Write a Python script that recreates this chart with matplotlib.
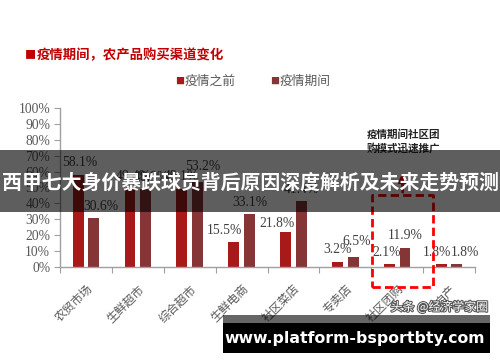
import matplotlib
matplotlib.use("Agg")
import matplotlib.pyplot as plt
from matplotlib.patches import Rectangle
import matplotlib.patheffects as pe
import numpy as np

categories = ["农贸市场", "生鲜超市", "综合超市", "生鲜电商", "社区菜店", "专卖店", "社区团购", "自产"]
before = [58.1, 49.4, 49.1, 15.5, 21.8, 3.2, 2.1, 1.8]
during = [30.6, 48.9, 53.2, 33.1, 41.4, 6.5, 11.9, 1.8]
series_names = ["疫情之前", "疫情期间"]
yticks = [0, 10, 20, 30, 40, 50, 60, 70, 80, 90, 100]
title = "疫情期间，农产品购买渠道变化"
note = "疫情期间社区团\n购模式迅速推广"
banner = "西甲七大身价暴跌球员背后原因深度解析及未来走势预测"
site = "www.platform-bsportbty.com"
watermark = "头条 @经济学家圈"

# label offsets in pixels (style)
dx_b = [1.5, 3, 0, -9, -8.5, 0, -2.5, -4.5]
dy_b = [12, 12, 12, 12, 9, 12, 11, 12]
dx_d = [7.5, 6, 5, 1, 0, 3.5, 0, 8]
dy_d = [12, 12, 16, 12, 12, 15, 13, 12]

CJK = ["Noto Sans CJK SC", "DejaVu Sans"]
SERIF = ["Liberation Serif", "DejaVu Serif"]
c_before = "#A81A1A"
c_during = "#853535"
gray = "#595959"

fig = plt.figure(figsize=(5.0, 3.62), dpi=100)
ax = fig.add_axes([0.12, 0.2624, 0.83, 0.4393])

x = np.arange(len(categories))
w = 0.21
ax.bar(x + 0.35, before, w, color=c_before, zorder=2)
ax.bar(x + 0.65, during, w, color=c_during, zorder=2)

px2pt = 72 / 100
for i in range(len(categories)):
    ax.annotate(f"{before[i]}%", (x[i] + 0.35, before[i]),
                xytext=(dx_b[i] * px2pt, dy_b[i] * px2pt), textcoords="offset points",
                ha="center", va="center", fontsize=9.8, family=SERIF, color="#404040")
    ax.annotate(f"{during[i]}%", (x[i] + 0.65, during[i]),
                xytext=(dx_d[i] * px2pt, dy_d[i] * px2pt), textcoords="offset points",
                ha="center", va="center", fontsize=9.8, family=SERIF, color="#404040")

ax.set_xlim(0, len(categories))
ax.set_ylim(0, 100)
ax.set_yticks(yticks)
ax.set_yticklabels([f"{t}%" for t in yticks], family=SERIF, fontsize=9.8, color=gray)
ax.set_xticks(np.arange(len(categories) + 1))
ax.set_xticklabels([])
ax.set_xticks(x + 0.5, minor=True)
ax.set_xticklabels(categories, minor=True, rotation=45, ha="right", va="top",
                   rotation_mode="anchor", family=CJK, fontsize=8.5, color=gray)
ax.tick_params(axis="x", which="minor", length=0, pad=11)
ax.tick_params(axis="x", which="major", length=4, color="#A0A0A0", direction="out")
ax.tick_params(axis="y", length=4, color="#A0A0A0", pad=3)
for s in ["top", "right"]:
    ax.spines[s].set_visible(False)
for s in ["left", "bottom"]:
    ax.spines[s].set_color("#A0A0A0")
    ax.spines[s].set_linewidth(1.0)

# dashed highlight box around 社区团购
box_x0, box_x1, box_y0, box_y1 = 6.02, 7.19, -12.6, 45.3
ax.plot([box_x0, box_x1, box_x1, box_x0, box_x0], [box_y0, box_y0, box_y1, box_y1, box_y0],
        color="#FF0000", lw=2.0, ls=(0, (3, 1.5)), clip_on=False, zorder=3)
ax.annotate("", xy=((box_x0 + box_x1) / 2, 61), xytext=((box_x0 + box_x1) / 2, box_y1),
            arrowprops=dict(arrowstyle="-|>", color="#FF0000", lw=2.0, ls="--",
                            mutation_scale=12), annotation_clip=False)
ax.text((box_x0 + box_x1) / 2 + 0.02, 79, note, ha="center", va="center",
        family=CJK, fontsize=7.6, fontweight="bold", color="#222222", linespacing=1.3)

# title
fig.text(25 / 500, 1 - 55 / 362, "■", family=CJK, fontsize=8, color="#C00000", va="center")
fig.text(37 / 500, 1 - 55 / 362, title, family=CJK, fontsize=9.6, fontweight="bold",
         color="#C00000", va="center")

# legend
fig.text(175 / 500, 1 - 81 / 362, "■", family=CJK, fontsize=6.5, color=c_before, va="center")
fig.text(185 / 500, 1 - 81 / 362, series_names[0], family=CJK, fontsize=9.2, color=gray, va="center")
fig.text(270 / 500, 1 - 81 / 362, "■", family=CJK, fontsize=6.5, color=c_during, va="center")
fig.text(280 / 500, 1 - 81 / 362, series_names[1], family=CJK, fontsize=9.2, color=gray, va="center")

# overlay banner
fig.patches.append(Rectangle((0, 1 - 212 / 362), 1, 62 / 362, transform=fig.transFigure,
                             facecolor="black", alpha=0.63, zorder=10))
fig.text(0.5, 1 - 182 / 362, banner, family=CJK, fontsize=14.3, fontweight="bold",
         color="white", ha="center", va="center", zorder=11)

# watermark
fig.text(439 / 500, 1 - 307 / 362, watermark, family=CJK, fontsize=8.6, color="white",
         ha="center", va="center", zorder=11,
         path_effects=[pe.withStroke(linewidth=1.5, foreground="#555555")])

# bottom site banner
fig.patches.append(Rectangle((223 / 500, 1 - 323 / 362), 267 / 500, 8 / 362, transform=fig.transFigure,
                             facecolor="black", alpha=0.6, zorder=10))
fig.patches.append(Rectangle((223 / 500, 1 - 353 / 362), 267 / 500, 30 / 362, transform=fig.transFigure,
                             facecolor="black", zorder=10))
fig.text(355 / 500, 1 - 338 / 362, site, family=["DejaVu Sans"], fontsize=11.3, fontweight="bold",
         color="white", ha="center", va="center", zorder=11)

fig.savefig("out.png", dpi=100)
